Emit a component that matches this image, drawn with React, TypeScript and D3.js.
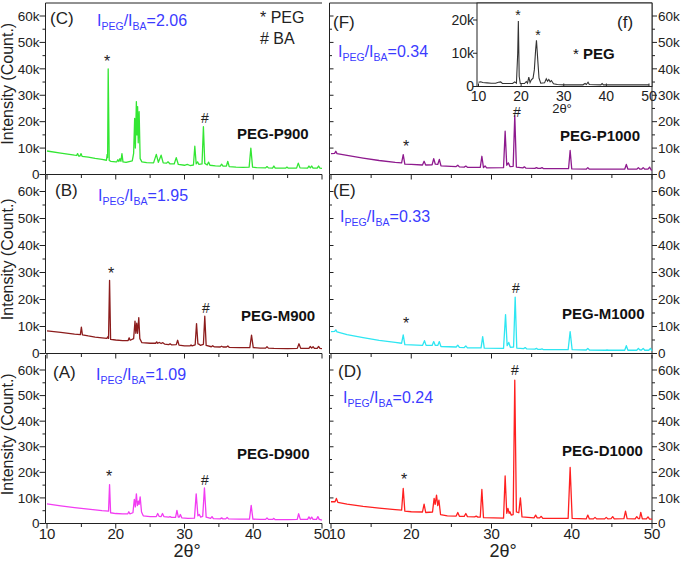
import React from "react";
import * as d3 from "d3";

// ---------- data (2θ in degrees, intensity in k counts) ----------
const X_TICK_VALUES = [10, 20, 30, 40, 50];
const X_MINOR_VALUES = [15, 25, 35, 45];
const Y_TICK_VALUES = [0, 10, 20, 30, 40, 50, 60];
const Y_TICK_LABELS = ["0", "10k", "20k", "30k", "40k", "50k", "60k"];
const Y_MINOR_VALUES = [5, 15, 25, 35, 45, 55];
const INSET_Y_TICKS = [0, 10, 20];
const INSET_Y_LABELS = ["0", "10k", "20k"];

const panelLetters = ["(C)", "(B)", "(A)", "(F)", "(E)", "(D)"];
const ratioValues = ["2.06", "1.95", "1.09", "0.34", "0.33", "0.24"];
const sampleNames = ["PEG-P900", "PEG-M900", "PEG-D900", "PEG-P1000", "PEG-M1000", "PEG-D1000"];
const seriesColors = ["#33e633", "#8c1c1c", "#f23cf2", "#8e1a8e", "#2ee6f2", "#ff2020"];

const specC: [number, number][] = [
  [10, 8.9], [12, 8.1], [14, 7.3], [14.3, 7.2], [14.45, 7.9], [14.6, 7.0], [14.8, 7.0], [14.95, 7.9], [15.1, 6.9],
  [16, 6.6], [17, 6.1], [18, 5.7], [18.65, 5.4], [18.75, 7.6], [18.82, 6.4], [18.9, 40.0], [19.05, 5.3], [19.3, 5.0],
  [20, 4.8], [20.15, 4.8], [20.3, 5.6], [20.45, 4.9], [20.6, 6.0], [20.75, 5.0], [20.9, 7.9], [21.05, 4.8], [21.5, 4.6],
  [22.4, 5.2], [22.6, 8], [22.75, 21.2], [22.85, 10], [23.0, 27.6], [23.08, 15], [23.18, 25.7], [23.27, 12], [23.4, 23.8],
  [23.55, 6], [23.8, 4.8], [24.5, 4.5], [25.5, 4.4], [25.9, 7.6], [26.2, 4.6], [26.6, 7.3], [26.9, 4.4], [27.4, 4.3],
  [27.6, 4.8], [27.9, 4.0], [28.5, 4.0], [28.8, 6.4], [29.1, 3.8], [30, 3.5], [30.4, 3.8], [30.8, 3.4], [31.3, 3.6],
  [31.5, 10.7], [31.7, 4.0], [31.9, 4.8], [32.1, 3.8], [32.55, 4.0], [32.75, 18.1], [32.95, 4.2], [33.3, 3.6], [33.5, 4.7],
  [33.7, 3.5], [34.5, 3.3], [35.2, 3.2], [35.4, 3.9], [35.6, 3.2], [36.1, 3.2], [36.3, 5.0], [36.5, 3.0], [37.5, 2.8],
  [38.5, 2.7], [39.4, 2.8], [39.65, 10.0], [39.9, 2.8], [40.5, 2.6], [41.8, 2.5], [42.0, 3.0], [42.2, 2.5], [42.8, 2.4],
  [43.0, 3.2], [43.2, 2.4], [44.7, 2.4], [44.9, 2.8], [45.1, 2.4], [46.3, 2.4], [46.55, 4.3], [46.8, 2.5], [47.9, 2.4],
  [48.1, 3.2], [48.3, 2.5], [48.5, 3.2], [48.7, 2.4], [49.3, 2.4], [49.5, 3.2], [49.7, 2.4], [50, 2.3],
];

const specB: [number, number][] = [
  [10, 8.4], [12, 7.8], [14, 7.2], [14.85, 7.0], [15.0, 9.8], [15.15, 6.9], [16, 6.5], [17, 6.1], [18, 5.8], [18.7, 5.6],
  [18.85, 6.2], [18.95, 5.6], [19.1, 27.1], [19.25, 5.2], [20, 5.0], [21, 4.8], [21.8, 4.8], [21.95, 5.8], [22.1, 4.9],
  [22.6, 5.5], [22.8, 12.0], [22.92, 7.5], [23.05, 11.2], [23.17, 7.5], [23.35, 13.3], [23.5, 5.5], [23.8, 4.0], [25, 3.8],
  [25.8, 3.8], [25.95, 4.3], [26.1, 3.8], [26.35, 4.1], [26.6, 3.7], [26.85, 4.0], [27.1, 3.5], [27.7, 3.3], [27.9, 3.6],
  [28.1, 3.2], [28.8, 3.3], [29.0, 4.9], [29.2, 3.1], [30, 2.8], [30.8, 2.8], [30.95, 3.2], [31.1, 2.8], [31.55, 3.2],
  [31.75, 11.1], [31.95, 3.6], [32.15, 3.4], [32.3, 3.0], [32.75, 3.4], [32.95, 13.8], [33.15, 3.0], [33.9, 2.5],
  [34.1, 2.9], [34.3, 2.5], [35.2, 2.4], [35.4, 2.7], [35.6, 2.4], [36.1, 2.4], [36.3, 2.8], [36.5, 2.3], [38, 2.2],
  [39.5, 2.2], [39.75, 6.8], [40.0, 2.2], [41, 2.0], [41.8, 2.0], [42.0, 2.5], [42.2, 2.0], [43, 1.9], [45, 1.8],
  [46.4, 1.9], [46.65, 3.6], [46.9, 1.9], [48.1, 1.9], [48.3, 2.6], [48.5, 2.0], [48.7, 2.5], [48.9, 1.9], [49.3, 1.9],
  [49.5, 2.6], [49.7, 1.9], [50, 1.8],
];

const specA: [number, number][] = [
  [10, 7.7], [12, 6.9], [14, 6.2], [16, 5.6], [18, 5.0], [18.95, 4.8], [19.1, 15.2], [19.25, 4.2], [20, 3.9], [21, 3.8],
  [21.75, 3.8], [21.9, 4.6], [22.05, 3.8], [22.5, 4.2], [22.7, 9.4], [22.85, 6.5], [23.0, 11.6], [23.15, 7.0], [23.3, 8.7],
  [23.4, 7.5], [23.55, 10.4], [23.75, 4.5], [24, 3.0], [25, 2.7], [25.9, 2.7], [26.1, 3.9], [26.3, 2.8], [26.6, 2.7],
  [26.8, 3.9], [27.0, 2.7], [27.7, 2.5], [27.9, 2.7], [28.1, 2.4], [28.7, 2.4], [28.9, 5.1], [29.1, 2.5], [29.25, 2.5],
  [29.4, 3.5], [29.6, 2.2], [30.5, 2.0], [31.45, 2.1], [31.7, 11.6], [31.95, 3.0], [32.15, 3.5], [32.35, 2.5],
  [32.65, 2.8], [32.9, 13.9], [33.15, 2.5], [33.8, 2.0], [34.0, 2.7], [34.2, 1.9], [35.2, 1.8], [35.4, 2.2], [35.6, 1.8],
  [36.0, 1.8], [36.2, 2.4], [36.4, 1.8], [38, 1.7], [39.45, 1.7], [39.7, 7.1], [39.95, 1.7], [41, 1.6], [41.8, 1.6],
  [42.0, 2.2], [42.2, 1.6], [42.8, 1.6], [43.0, 2.0], [43.2, 1.5], [45, 1.5], [46.4, 1.6], [46.6, 3.8], [46.85, 1.6],
  [47.9, 1.6], [48.1, 2.6], [48.3, 1.7], [48.5, 2.5], [48.7, 1.6], [49.2, 1.6], [49.4, 2.7], [49.6, 1.6], [50, 1.3],
];

const specF: [number, number][] = [
  [10, 7.9], [10.45, 8.0], [10.6, 8.8], [10.75, 7.9], [12, 7.2], [14, 6.2], [16, 5.3], [18, 4.6], [18.8, 4.4], [19.0, 7.5],
  [19.2, 3.9], [20, 3.8], [21.4, 3.6], [21.6, 5.0], [21.8, 3.6], [22.6, 3.7], [22.8, 6.0], [23.0, 3.9], [23.3, 3.8],
  [23.5, 5.7], [23.7, 3.3], [25.6, 3.0], [25.8, 3.5], [26.0, 2.9], [26.6, 2.8], [26.8, 3.2], [27.0, 2.7], [28.6, 2.7],
  [28.8, 6.9], [29.0, 2.6], [29.2, 3.2], [29.4, 2.5], [31.5, 2.6], [31.7, 16.4], [31.9, 3.5], [32.1, 4.4], [32.3, 3.0],
  [32.7, 3.1], [32.9, 22.3], [33.1, 2.8], [33.9, 2.5], [34.1, 2.9], [34.3, 2.4], [35.4, 2.3], [35.6, 2.6], [35.8, 2.3],
  [36.1, 2.3], [36.3, 2.6], [36.5, 2.2], [39.6, 2.2], [39.8, 9.1], [40.0, 2.1], [41.8, 2.0], [42.0, 2.6], [42.2, 2.0],
  [46.6, 2.0], [46.8, 3.8], [47.0, 2.0], [48.1, 2.0], [48.3, 2.6], [48.5, 2.0], [48.7, 2.0], [48.9, 2.6], [49.1, 2.0],
  [49.5, 2.0], [49.7, 2.8], [49.9, 1.7], [50, 1.7],
];

const specE: [number, number][] = [
  [10, 8.1], [10.45, 8.2], [10.6, 8.75], [10.75, 8.0], [12, 7.0], [14, 5.9], [16, 4.9], [18, 4.1], [18.8, 3.8], [19.0, 6.9],
  [19.2, 3.3], [20, 3.2], [21.4, 3.0], [21.65, 4.75], [21.85, 3.0], [22.6, 3.0], [22.8, 4.4], [23.0, 3.0], [23.3, 3.0],
  [23.5, 4.4], [23.7, 2.6], [25.6, 2.4], [25.8, 3.1], [26.0, 2.3], [26.6, 2.2], [26.8, 2.8], [27.0, 2.1], [28.7, 2.1],
  [28.9, 6.25], [29.1, 2.0], [31.5, 1.9], [31.75, 14.4], [31.95, 2.9], [32.15, 4.1], [32.35, 2.3], [32.75, 2.4],
  [32.95, 20.9], [33.15, 2.0], [34.0, 1.8], [34.2, 2.2], [34.4, 1.7], [35.4, 1.6], [35.6, 1.9], [35.8, 1.5], [36.1, 1.5],
  [36.3, 1.7], [36.5, 1.4], [39.55, 1.4], [39.8, 8.1], [40.05, 1.4], [41.8, 1.3], [42.0, 1.9], [42.2, 1.3], [44.2, 1.2],
  [44.4, 1.3], [44.6, 1.2], [46.6, 1.2], [46.8, 2.9], [47.0, 1.2], [48.1, 1.2], [48.3, 1.9], [48.5, 1.3], [48.7, 1.3],
  [48.9, 1.9], [49.1, 1.2], [49.6, 1.2], [49.8, 1.9], [50, 1.0],
];

const specD: [number, number][] = [
  [10, 8.5], [10.5, 8.5], [10.67, 9.8], [10.85, 8.3], [12, 7.6], [14, 6.7], [16, 6.0], [18, 5.4], [18.8, 5.2], [19.0, 13.7],
  [19.2, 4.8], [20, 4.6], [21.4, 4.5], [21.6, 7.6], [21.8, 4.3], [22.65, 4.5], [22.85, 9.8], [22.98, 7.5], [23.15, 11.1],
  [23.3, 7.0], [23.45, 9.1], [23.65, 3.5], [24.5, 3.0], [25.6, 2.9], [25.8, 4.3], [26.0, 2.8], [26.6, 2.8], [26.8, 3.9],
  [27.0, 2.7], [27.9, 2.6], [28.1, 2.9], [28.3, 2.5], [28.6, 2.5], [28.8, 13.3], [29.0, 2.3], [31.5, 2.1], [31.7, 18.6],
  [31.9, 4.0], [32.05, 5.9], [32.2, 4.0], [32.3, 4.6], [32.45, 3.3], [32.7, 3.5], [32.9, 56.0], [33.1, 4.5], [33.4, 4.2],
  [33.6, 10.0], [33.8, 2.6], [35.3, 2.2], [35.5, 3.3], [35.7, 2.2], [36.0, 2.2], [36.2, 2.8], [36.4, 2.0], [38, 2.0],
  [39.55, 2.0], [39.8, 21.9], [40.05, 2.0], [41.8, 1.8], [42.0, 3.3], [42.2, 1.8], [42.7, 1.8], [42.9, 2.4], [43.1, 1.8],
  [44.1, 1.8], [44.3, 2.4], [44.5, 1.8], [44.9, 1.9], [45.1, 2.7], [45.3, 1.8], [46.5, 1.9], [46.7, 4.8], [46.9, 1.9],
  [47.9, 1.8], [48.1, 2.7], [48.3, 1.9], [48.45, 1.9], [48.6, 4.3], [48.8, 1.8], [49.3, 1.8], [49.5, 2.6], [49.7, 1.7],
  [50, 1.7],
];

const specInset: [number, number][] = [
  [10, 1.3], [10.5, 1.4], [11, 1.2], [12, 1.1], [13, 1.0], [14, 1.0], [14.7, 1.3], [15.2, 1.4], [15.6, 0.9], [17, 0.9],
  [18, 0.9], [18.5, 1.4], [18.9, 1.0], [19.2, 10], [19.35, 19.7], [19.55, 3], [19.8, 0.9], [20.8, 0.9], [21.2, 1.5],
  [21.5, 1.0], [21.8, 2.8], [22.1, 1.2], [22.4, 2.0], [22.8, 2.5], [23.1, 5], [23.4, 11], [23.6, 13.9], [23.9, 8],
  [24.2, 2.5], [24.6, 1.0], [25.5, 1.1], [25.9, 2.3], [26.2, 1.6], [26.5, 2.1], [26.8, 1.4], [27.1, 1.8], [27.6, 0.8],
  [28.5, 0.6], [30, 0.5], [31, 0.5], [34.5, 0.5], [35.0, 0.9], [35.3, 0.6], [35.7, 1.3], [36.0, 0.6], [38.7, 0.5],
  [39.0, 0.9], [39.3, 0.5], [42, 0.5], [45, 0.5], [48, 0.5], [50, 0.5],
];

const allSpectra = [specC, specB, specA, specF, specE, specD];

// ---------- layout ----------
const FONT = "Arial, 'Liberation Sans', Helvetica, sans-serif";
const BLUE = "#3b3bff";
const INK = "#222";

const cols = [
  { x0: 47, x1: 322, axis: 45.5 },
  { x0: 331, x1: 652, axis: 329.5 },
];
const rows = [
  { top: 3, y0: 174.5, y60: 16 },
  { top: 175, y0: 353.5, y60: 191.5 },
  { top: 355, y0: 523.5, y60: 370 },
];

// per-panel annotation positions (order C,B,A,F,E,D)
const annot = [
  { letter: [50, 24], ratio: [97, 26], name: [237, 139], star: [107, 67], hash: [205, 123] },
  { letter: [55, 196], ratio: [98, 201], name: [241, 321], star: [111, 279], hash: [206, 313] },
  { letter: [53, 378], ratio: [96, 380], name: [237, 459], star: [109, 482], hash: [205, 485] },
  { letter: [333, 28], ratio: [338, 57], name: [560, 141], star: [406, 152], hash: [517, 117] },
  { letter: [333, 196], ratio: [340, 222], name: [562, 319], star: [406, 329], hash: [516, 293] },
  { letter: [338, 377], ratio: [343, 403], name: [562, 456], star: [404, 485], hash: [515, 375] },
];

function Ratio({ x, y, value }: { x: number; y: number; value: string }) {
  return (
    <text x={x} y={y} fill={BLUE} fontFamily={FONT} fontSize={16}>
      I<tspan fontSize={10.5} dy={4}>PEG</tspan>
      <tspan dy={-4}>/I</tspan>
      <tspan fontSize={10.5} dy={4}>BA</tspan>
      <tspan dy={-4}>={value}</tspan>
    </text>
  );
}

function Panel({ idx }: { idx: number }) {
  const ci = idx < 3 ? 0 : 1;
  const ri = idx % 3;
  const c = cols[ci];
  const r = rows[ri];
  const x = d3.scaleLinear().domain([10, 50]).range([c.x0, c.x1]);
  const y = d3.scaleLinear().domain([0, 60]).range([r.y0, r.y60]);
  const line = d3
    .line<[number, number]>()
    .x((d) => x(d[0]))
    .y((d) => y(d[1]));
  const a = annot[idx];
  const bottom = r.y0;
  const els: React.ReactNode[] = [];

  els.push(<line key="la" x1={c.axis} x2={c.axis} y1={r.top} y2={bottom} stroke={INK} strokeWidth={1} />);
  els.push(<line key="ba" x1={c.axis} x2={c.x1} y1={bottom} y2={bottom} stroke={INK} strokeWidth={1} />);
  if (ri === 0) els.push(<line key="ta" x1={c.axis} x2={c.x1} y1={r.top} y2={r.top} stroke={INK} strokeWidth={1} />);
  if (ci === 1) els.push(<line key="ra" x1={c.x1} x2={c.x1} y1={r.top} y2={bottom} stroke={INK} strokeWidth={1} />);

  X_TICK_VALUES.forEach((v) =>
    els.push(<line key={"xt" + v} x1={x(v)} x2={x(v)} y1={bottom} y2={bottom + 5} stroke={INK} />)
  );
  X_MINOR_VALUES.forEach((v) =>
    els.push(<line key={"xm" + v} x1={x(v)} x2={x(v)} y1={bottom} y2={bottom + 3.5} stroke={INK} />)
  );
  if (ri === 2) {
    X_TICK_VALUES.forEach((v) =>
      els.push(
        <text key={"xl" + v} x={x(v) + (ci === 1 && v === 10 ? 6 : 0)} y={bottom + 15} textAnchor="middle"
          fontFamily={FONT} fontSize={15} fill={INK}>
          {v}
        </text>
      )
    );
    els.push(
      <text key="xtitle" x={ci === 0 ? 187 : 503} y={557} textAnchor="middle" fontFamily={FONT} fontSize={18} fill={INK}>
        2θ°
      </text>
    );
  }

  Y_TICK_VALUES.forEach((v, i) => {
    const yy = y(v);
    if (ci === 0) {
      els.push(<line key={"yt" + v} x1={c.axis - 6} x2={c.axis} y1={yy} y2={yy} stroke={INK} />);
      els.push(
        <text key={"yl" + v} x={c.axis - 6} y={yy} dy="0.35em" textAnchor="end" fontFamily={FONT} fontSize={13.5} fill={INK}>
          {Y_TICK_LABELS[i]}
        </text>
      );
    } else {
      els.push(<line key={"yti" + v} x1={c.axis} x2={c.axis + 4} y1={yy} y2={yy} stroke={INK} />);
      els.push(<line key={"ytr" + v} x1={c.x1} x2={c.x1 + 5} y1={yy} y2={yy} stroke={INK} />);
      els.push(
        <text key={"yl" + v} x={c.x1 + 6} y={yy} dy="0.35em" textAnchor="start" fontFamily={FONT} fontSize={13.5} fill={INK}>
          {Y_TICK_LABELS[i]}
        </text>
      );
    }
  });
  Y_MINOR_VALUES.forEach((v) => {
    const yy = y(v);
    if (ci === 0) els.push(<line key={"ym" + v} x1={c.axis - 3} x2={c.axis} y1={yy} y2={yy} stroke={INK} />);
    else {
      els.push(<line key={"ymi" + v} x1={c.axis} x2={c.axis + 2.5} y1={yy} y2={yy} stroke={INK} />);
      els.push(<line key={"ymr" + v} x1={c.x1} x2={c.x1 + 3} y1={yy} y2={yy} stroke={INK} />);
    }
  });

  if (ci === 0) {
    const cy = (r.top + bottom) / 2 - 5;
    els.push(
      <text key="ytitle" transform={`translate(13,${cy}) rotate(-90)`} textAnchor="middle" fontFamily={FONT} fontSize={16} fill={INK}>
        Intensity (Count.)
      </text>
    );
  }

  els.push(
    <path key="data" d={line(allSpectra[idx]) || ""} fill="none"
      stroke={seriesColors[idx]} strokeWidth={1.3} strokeLinejoin="round" />
  );

  els.push(
    <text key="letter" x={a.letter[0]} y={a.letter[1]} fontFamily={FONT} fontSize={17} fill={INK}>
      {panelLetters[idx]}
    </text>
  );
  els.push(<Ratio key="ratio" x={a.ratio[0]} y={a.ratio[1]} value={ratioValues[idx]} />);
  els.push(
    <text key="name" x={a.name[0]} y={a.name[1]} fontFamily={FONT} fontSize={15} fontWeight="bold" fill="#111">
      {sampleNames[idx]}
    </text>
  );
  els.push(
    <text key="star" x={a.star[0]} y={a.star[1]} textAnchor="middle" fontFamily={FONT} fontSize={16} fill={INK}>
      *
    </text>
  );
  els.push(
    <text key="hash" x={a.hash[0]} y={a.hash[1]} textAnchor="middle" fontFamily={FONT} fontSize={14} fill={INK}>
      #
    </text>
  );
  return <g>{els}</g>;
}

function Inset() {
  const box = { x0: 477, x1: 652, top: 3, bottom: 86.5 };
  const x = d3.scaleLinear().domain([10, 50]).range([478.5, 649]);
  const y = d3.scaleLinear().domain([0, 20]).range([86.5, 20]);
  const line = d3
    .line<[number, number]>()
    .x((d) => x(d[0]))
    .y((d) => y(d[1]));
  return (
    <g>
      <rect x={box.x0} y={box.top} width={box.x1 - box.x0} height={box.bottom - box.top} fill="white" stroke={INK} strokeWidth={1} />
      {X_TICK_VALUES.map((v) => (
        <g key={"ix" + v}>
          <line x1={x(v)} x2={x(v)} y1={box.bottom} y2={box.bottom - 3} stroke={INK} />
          <text x={x(v)} y={101} textAnchor="middle" fontFamily={FONT} fontSize={14} fill={INK}>
            {v}
          </text>
        </g>
      ))}
      {INSET_Y_TICKS.map((v, i) => (
        <g key={"iy" + v}>
          <line x1={box.x0 - 4} x2={box.x0} y1={y(v)} y2={y(v)} stroke={INK} />
          <text x={box.x0 - 3} y={y(v)} dy="0.35em" textAnchor="end" fontFamily={FONT} fontSize={14} fill={INK}>
            {INSET_Y_LABELS[i]}
          </text>
        </g>
      ))}
      <path d={line(specInset) || ""} fill="none" stroke="#333" strokeWidth={1.1} />
      <text x={562} y={113} textAnchor="middle" fontFamily={FONT} fontSize={13} fill={INK}>
        2θ°
      </text>
      <text x={518} y={20} textAnchor="middle" fontFamily={FONT} fontSize={14} fill={INK}>*</text>
      <text x={538} y={40} textAnchor="middle" fontFamily={FONT} fontSize={14} fill={INK}>*</text>
      <text x={617} y={28} fontFamily={FONT} fontSize={17} fill={INK}>(f)</text>
      <text x={573} y={59} fontFamily={FONT} fontSize={15} fill="#111">
        * <tspan fontWeight="bold">PEG</tspan>
      </text>
    </g>
  );
}

export default function App() {
  return (
    <svg width={686} height={563} style={{ position: "absolute", left: 0, top: 0, background: "white" }}>
      <rect x={0} y={0} width={686} height={563} fill="white" />
      {[0, 1, 2, 3, 4, 5].map((i) => (
        <Panel key={i} idx={i} />
      ))}
      <Inset />
      <text x={260} y={23} fontFamily={FONT} fontSize={16} fill={INK}>* PEG</text>
      <text x={260} y={44} fontFamily={FONT} fontSize={16} fill={INK}># BA</text>
    </svg>
  );
}
